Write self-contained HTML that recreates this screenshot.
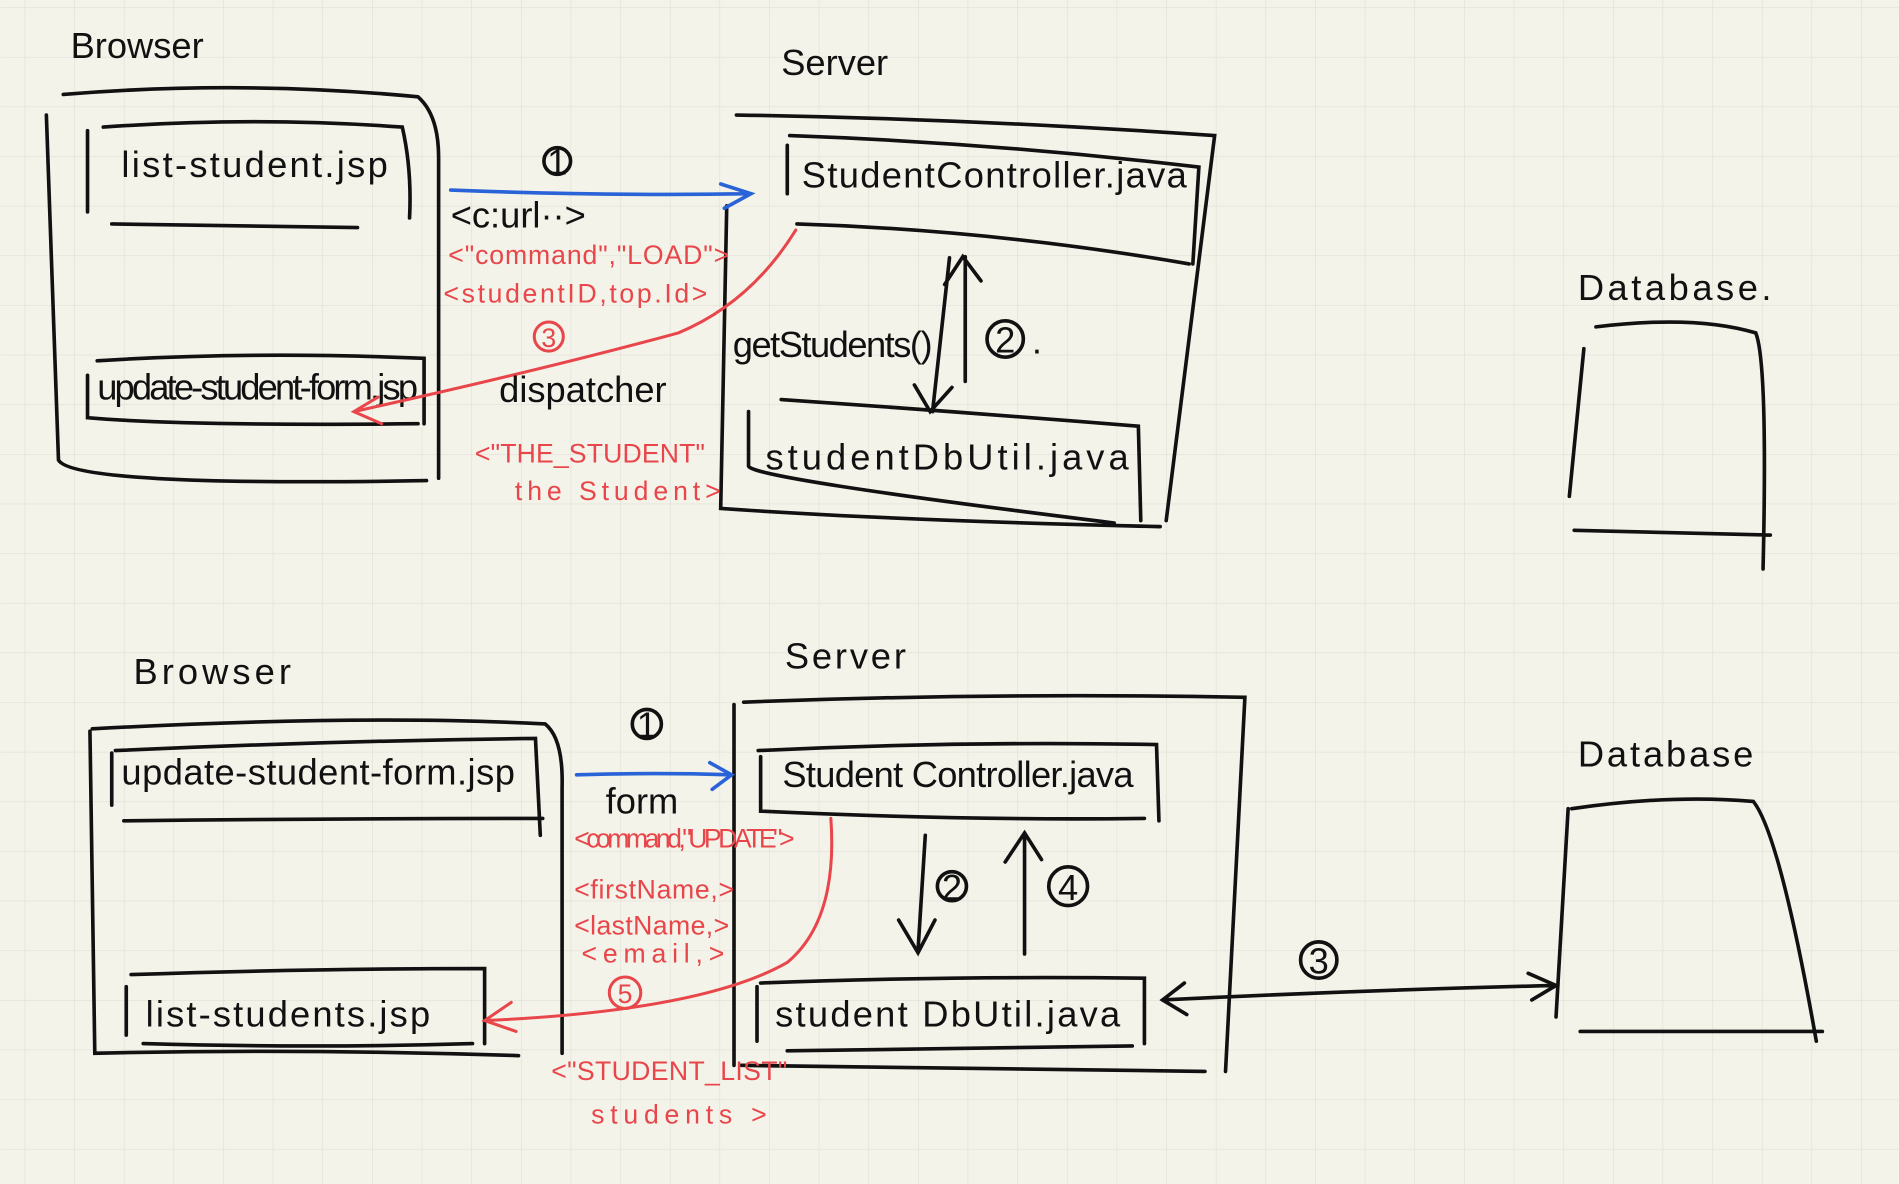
<!DOCTYPE html>
<html><head><meta charset="utf-8"><style>
html,body{margin:0;padding:0;background:#f4f3ea;}
svg{display:block;}
text{font-family:"Liberation Sans",sans-serif;}
.k{fill:none;stroke:#111;stroke-width:3;stroke-linecap:round;}
.r{fill:none;stroke:#e8464a;stroke-width:2.5;stroke-linecap:round;}
.b{fill:none;stroke:#2a62d8;stroke-width:3;stroke-linecap:round;}
.t{fill:#111;font-size:30px;}
.rt{fill:#e8464a;font-size:22px;}
.c{text-anchor:middle;dominant-baseline:central;}
</style></head><body>
<svg width="1899" height="1184" viewBox="0 0 1568 978" xmlns="http://www.w3.org/2000/svg">
<defs><pattern id="g" x="20" y="6" width="41" height="41" patternUnits="userSpaceOnUse"><path d="M0 0H41M0 0V41" stroke="#e0dfd6" stroke-width="1" fill="none"/></pattern></defs>
<rect width="1568" height="978" fill="#f4f3ea"/>
<rect width="1568" height="978" fill="url(#g)"/>

<!-- TOP -->
<text x="58" y="48" class="t" font-size="36">Browser</text>
<path class="k" d="M52 78Q200 66 345 80Q362 95 362 130V395M38 95L48 380Q60 402 352 397"/>
<path class="k" d="M72 108V175M85 105Q210 96 332 105Q340 140 338 180M92 185L295 188"/>
<text x="100" y="146" class="t" textLength="220">list-student.jsp</text>
<path class="k" d="M80 298Q210 290 350 296V350M72 310V345Q150 352 345 350"/>
<text x="80" y="330" class="t" font-size="24" textLength="265">update-student-form.jsp</text>

<text x="645" y="62" class="t" font-size="36">Server</text>
<path class="k" d="M608 95Q800 98 1003 112L963 430M600 170L595 420Q740 430 958 435"/>
<path class="k" d="M652 112Q820 118 990 138L985 218M650 120V160M658 185Q820 190 982 218"/>
<text x="662" y="155" class="t" font-size="34" textLength="318">StudentController.java</text>
<path class="k" d="M645 330Q790 340 940 352L942 430M618 340V385Q620 395 920 432"/>
<text x="632" y="388" class="t" font-size="34" textLength="300">studentDbUtil.java</text>
<path class="k" d="M784 213L770 340M755 318L768 340L786 320M797 212V315M780 235L795 212L810 232"/>
<text x="605" y="295" class="t" font-size="26" textLength="165">getStudents()</text>
<circle cx="830" cy="280" r="15" class="k" stroke-width="2.5"/><text x="830" y="281" class="t c" font-size="24">2</text><text x="852" y="292" class="t">.</text>

<circle cx="460" cy="133" r="11" class="k" stroke-width="2"/><text x="460" y="134" class="t c" font-size="18">1</text>
<path class="b" d="M372 157Q500 162 620 160M595 152L620 160L598 172"/>
<text x="372" y="188" class="t" font-size="24">&lt;c:url··&gt;</text>
<text x="370" y="218" class="rt" textLength="232">&lt;"command","LOAD"&gt;</text>
<text x="366" y="250" class="rt" textLength="218">&lt;studentID,top.Id&gt;</text>
<circle cx="453" cy="278" r="12" class="r"/><text x="453" y="279" class="rt c" font-size="18">3</text>
<path class="r" d="M657 190Q620 250 560 275Q450 305 292 340M312 328L292 340L315 350"/>
<text x="412" y="332" class="t" font-size="26">dispatcher</text>
<text x="392" y="382" class="rt" font-size="26" textLength="190">&lt;"THE_STUDENT"</text>
<text x="425" y="413" class="rt" font-size="26" textLength="170">the Student&gt;</text>

<text x="1303" y="248" class="t" font-size="36" textLength="160">Database.</text>
<path class="k" d="M1308 288L1296 410M1318 270Q1400 260 1450 275Q1460 300 1456 470M1300 438L1462 442"/>

<!-- BOTTOM -->
<text x="110" y="565" class="t" font-size="36" textLength="130">Browser</text>
<path class="k" d="M76 602Q300 590 450 598Q465 610 464 650V870M74 604L78 870Q250 866 428 872"/>
<path class="k" d="M92 622V665M95 620Q270 612 442 610L446 690M102 678Q280 676 448 676"/>
<text x="100" y="648" class="t" font-size="26" textLength="325">update-student-form.jsp</text>
<path class="k" d="M108 805Q260 800 400 800V862M104 815V855M118 862Q260 866 390 862"/>
<text x="120" y="848" class="t" font-size="30" textLength="235">list-students.jsp</text>

<text x="648" y="552" class="t" font-size="34" textLength="100">Server</text>
<path class="k" d="M614 580Q820 572 1028 576L1012 885M606 582V880M612 880L995 885"/>
<path class="k" d="M626 620Q790 612 955 615L957 678M628 625V670Q800 678 945 676"/>
<text x="646" y="650" class="t" font-size="28" textLength="290">Student Controller.java</text>
<path class="k" d="M628 812Q780 806 945 808L945 862M625 815V860M650 868L935 864"/>
<text x="640" y="848" class="t" font-size="30" textLength="285">student DbUtil.java</text>
<path class="k" d="M764 690L758 785M742 760L758 787L772 760M846 690V788M830 712L846 688L860 710"/>
<circle cx="786" cy="732" r="12" class="k" stroke-width="2"/><text x="786" y="733" class="t c" font-size="18">2</text>
<circle cx="882" cy="732" r="16" class="k" stroke-width="2.5"/><text x="882" y="733" class="t c" font-size="24">4</text>

<circle cx="534" cy="598" r="12" class="k" stroke-width="2"/><text x="534" y="599" class="t c" font-size="18">1</text>
<path class="b" d="M476 640Q540 638 604 640M586 630L604 640L588 652"/>
<text x="500" y="672" class="t" font-size="26">form</text>
<text x="474" y="700" class="rt" textLength="182">&lt;command,"UPDATE"&gt;</text>
<text x="474" y="742" class="rt" textLength="132">&lt;firstName,&gt;</text>
<text x="474" y="772" class="rt" textLength="128">&lt;lastName,&gt;</text>
<text x="480" y="795" class="rt" textLength="118">&lt;email,&gt;</text>
<circle cx="516" cy="820" r="13" class="r"/><text x="516" y="821" class="rt c" font-size="18">5</text>
<path class="r" d="M686 676Q692 760 650 795Q580 835 400 843M422 828L400 843L426 852"/>
<text x="455" y="892" class="rt" font-size="24" textLength="195">&lt;"STUDENT_LIST"</text>
<text x="488" y="928" class="rt" font-size="24" textLength="145">students &gt;</text>

<text x="1303" y="633" class="t" font-size="36" textLength="145">Database</text>
<path class="k" d="M1295 668L1285 840M1298 668Q1380 656 1448 662Q1470 690 1500 860M1305 852L1505 852"/>
<circle cx="1089" cy="793" r="15" class="k" stroke-width="2.5"/><text x="1089" y="794" class="t c" font-size="22">3</text>
<path class="k" d="M960 826Q1120 818 1285 814M978 812L960 826L980 838M1262 804L1285 814L1265 826"/>
</svg>
</body></html>
